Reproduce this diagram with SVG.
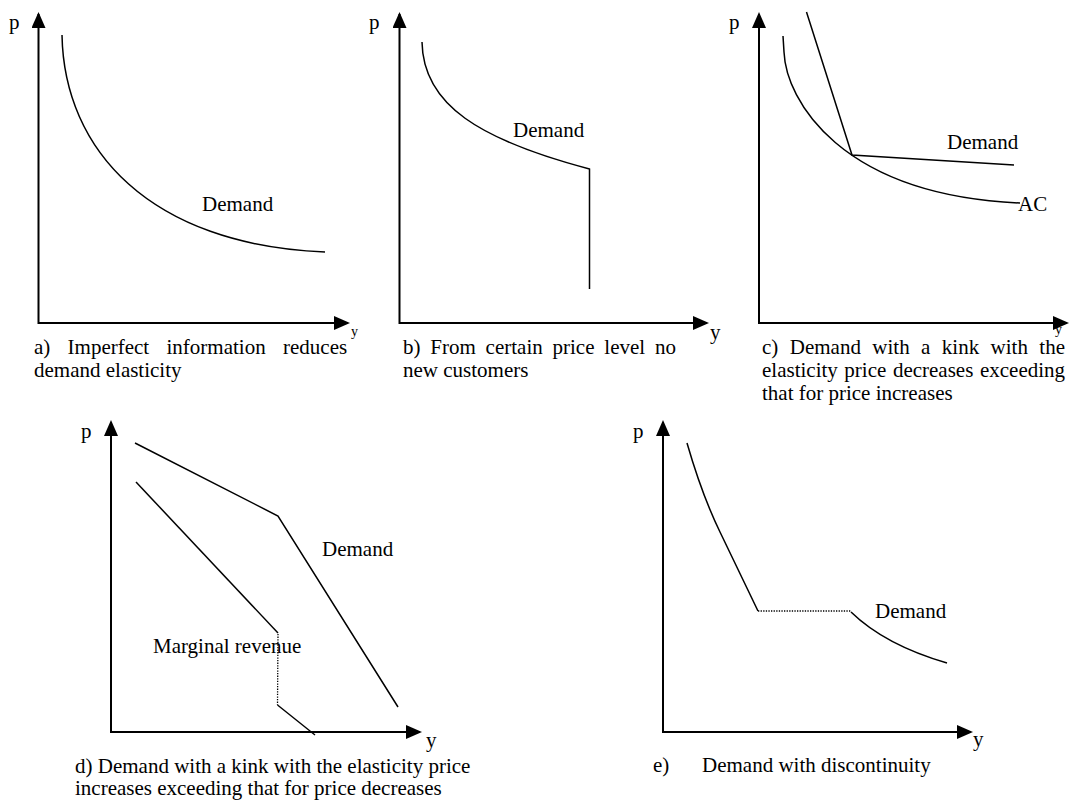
<svg xmlns="http://www.w3.org/2000/svg" width="1072" height="801" viewBox="0 0 1072 801">
<style>
text{font-family:"Liberation Serif","Times New Roman",serif;font-size:21px;fill:#000}
.sm{font-size:14px}
.axis{fill:none;stroke:#000;stroke-width:2;marker-start:url(#ahs);marker-end:url(#ahe)}
.crv{fill:none;stroke:#000;stroke-width:1.5}
.dot{fill:none;stroke:#000;stroke-width:1.3;stroke-dasharray:1.3 1.3}
</style>
<defs>
<marker id="ahe" markerUnits="userSpaceOnUse" markerWidth="16" markerHeight="14" refX="14" refY="7" orient="auto"><path d="M0,0 L16,7 L0,14 z" fill="#000"/></marker>
<marker id="ahs" markerUnits="userSpaceOnUse" markerWidth="16" markerHeight="14" refX="14" refY="7" orient="auto-start-reverse"><path d="M0,0 L16,7 L0,14 z" fill="#000"/></marker>
</defs>
<rect width="1072" height="801" fill="#fff"/>

<g id="panel-a">
<path class="axis" d="M38.5,14 L38.5,323 L348,323"/>
<path class="crv" d="M62,35 C64,150 150,245 325,252"/>
<text x="9" y="29">p</text>
<text class="sm" x="351" y="336">y</text>
<text x="202" y="211">Demand</text>
<text y="354"><tspan x="34">a)</tspan><tspan x="67.6">Imperfect</tspan><tspan x="166.5">information</tspan><tspan x="283">reduces</tspan></text>
<text x="34" y="377">demand elasticity</text>
</g>

<g id="panel-b">
<path class="axis" d="M399.5,14 L399.5,323 L707,323"/>
<path class="crv" d="M422,42 C423,105 480,140 589.5,169 L589.5,289"/>
<text x="369" y="29">p</text>
<text x="710" y="339">y</text>
<text x="513" y="137">Demand</text>
<text y="354"><tspan x="403">b)</tspan><tspan x="430.3">From</tspan><tspan x="485.6">certain</tspan><tspan x="552.5">price</tspan><tspan x="604.3">level</tspan><tspan x="654.9">no</tspan></text>
<text x="403" y="377">new customers</text>
</g>

<g id="panel-c">
<path class="axis" d="M759,14 L759,323 L1067,323"/>
<path class="crv" d="M783,36 L784,52 C786,100 840,195 1020,203"/>
<path class="crv" d="M806.5,12 L852,155 L1014,165"/>
<text x="729" y="29">p</text>
<text class="sm" x="1055" y="334">y</text>
<text x="947" y="149">Demand</text>
<text x="1018" y="211">AC</text>
<text y="354"><tspan x="762">c)</tspan><tspan x="789.75">Demand</tspan><tspan x="872.3">with</tspan><tspan x="921.05">a</tspan><tspan x="941.8">kink</tspan><tspan x="990.55">with</tspan><tspan x="1039.3">the</tspan></text>
<text y="377"><tspan x="762">elasticity</tspan><tspan x="844.35">price</tspan><tspan x="892.9">decreases</tspan><tspan x="979.95">exceeding</tspan></text>
<text x="762" y="400">that for price increases</text>
</g>

<g id="panel-d">
<path class="axis" d="M111,422 L111,732 L420,732"/>
<path class="crv" d="M135,443 L278,516 L398,707"/>
<path class="crv" d="M136,482 L278,633"/>
<path class="dot" d="M278,634 L277.5,705"/>
<path class="crv" d="M277.5,705 L315,735"/>
<text x="81" y="438">p</text>
<text x="426" y="747">y</text>
<text x="322" y="556">Demand</text>
<text x="153" y="653">Marginal revenue</text>
<text x="75" y="773">d) Demand with a kink with the elasticity price</text>
<text x="75" y="795">increases exceeding that for price decreases</text>
</g>

<g id="panel-e">
<path class="axis" d="M663,422 L663,732 L971,732"/>
<path class="crv" d="M687,443 Q702,495 720,532 L758,611"/>
<path class="dot" d="M758,611 L851,611"/>
<path class="crv" d="M851,612 Q885,645 947,663"/>
<text x="633" y="438">p</text>
<text x="973" y="746">y</text>
<text x="875" y="618">Demand</text>
<text x="653" y="772">e)</text>
<text x="702" y="772">Demand with discontinuity</text>
</g>
</svg>
